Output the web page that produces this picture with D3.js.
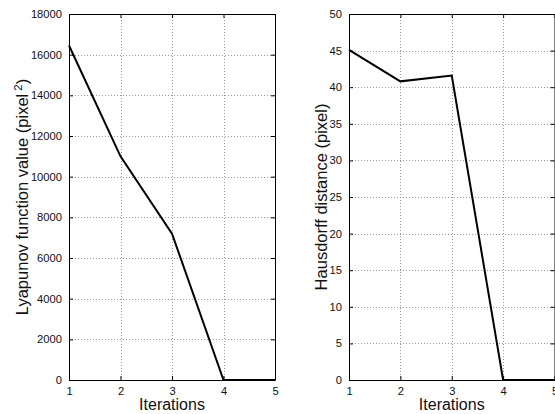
<!DOCTYPE html>
<html>
<head>
<meta charset="utf-8">
<script src="https://cdn.jsdelivr.net/npm/d3@7"></script>
<style>
  html, body { margin: 0; padding: 0; background: #fff; }
  svg { display: block; font-family: "Liberation Sans", Arial, Helvetica, sans-serif; }
</style>
</head>
<body>
<svg id="chart" width="555" height="414"></svg>
<script>
const iterations = [1, 2, 3, 4, 5];
const lyapunovValues = [16450, 11000, 7200, 0, 0];
const hausdorffValues = [45.1, 40.8, 41.6, 0, 0];
const xTicks = [1, 2, 3, 4, 5];
const lyapunovTicks = [0, 2000, 4000, 6000, 8000, 10000, 12000, 14000, 16000, 18000];
const hausdorffTicks = [0, 5, 10, 15, 20, 25, 30, 35, 40, 45, 50];

const svg = d3.select("#chart");

function panel(cfg) {
  const g = svg.append("g");
  const x = d3.scaleLinear().domain([1, 5]).range([cfg.left, cfg.right]);
  const y = d3.scaleLinear().domain(cfg.yDomain).range([cfg.bottom, cfg.top]);

  // grid
  const grid = g.append("g").attr("stroke", "#999").attr("stroke-width", 1)
    .attr("stroke-dasharray", "1,2");
  xTicks.slice(1, -1).forEach(t => {
    grid.append("line").attr("x1", Math.round(x(t)) + 0.5).attr("x2", Math.round(x(t)) + 0.5)
      .attr("y1", cfg.top).attr("y2", cfg.bottom);
  });
  cfg.yTicks.slice(1, -1).forEach(t => {
    grid.append("line").attr("y1", Math.round(y(t)) + 0.5).attr("y2", Math.round(y(t)) + 0.5)
      .attr("x1", cfg.left).attr("x2", cfg.right);
  });

  // axes
  const xAxisB = d3.axisBottom(x).tickValues(xTicks).tickSizeInner(-4).tickSizeOuter(0).tickPadding(7).tickFormat(d3.format("d"));
  const xAxisT = d3.axisTop(x).tickValues(xTicks).tickSizeInner(-4).tickSizeOuter(0).tickFormat("");
  const yAxisL = d3.axisLeft(y).tickValues(cfg.yTicks).tickSizeInner(-4).tickSizeOuter(0).tickPadding(7).tickFormat(d3.format("d"));
  const yAxisR = d3.axisRight(y).tickValues(cfg.yTicks).tickSizeInner(-4).tickSizeOuter(0).tickFormat("");

  const axes = [
    g.append("g").attr("transform", `translate(0,${cfg.bottom})`).call(xAxisB),
    g.append("g").attr("transform", `translate(0,${cfg.top})`).call(xAxisT),
    g.append("g").attr("transform", `translate(${cfg.left},0)`).call(yAxisL),
    g.append("g").attr("transform", `translate(${cfg.right},0)`).call(yAxisR)
  ];
  axes.forEach(a => {
    a.selectAll("path").attr("stroke", "#000").attr("stroke-width", 1);
    a.selectAll("line").attr("stroke", "#000");
    a.selectAll("text").attr("fill", "#111").style("font-size", "11.2px").style("font-family", "'Liberation Sans', Arial, sans-serif");
  });

  // data line
  g.append("path")
    .datum(iterations.map((d, i) => [d, cfg.values[i]]))
    .attr("fill", "none")
    .attr("stroke", "#000")
    .attr("stroke-width", 2)
    .attr("stroke-linejoin", "miter")
    .attr("d", d3.line().x(d => x(d[0])).y(d => y(d[1])));

  // x label
  g.append("text")
    .attr("x", (cfg.left + cfg.right) / 2)
    .attr("y", 410)
    .attr("text-anchor", "middle")
    .style("font-size", "16px")
    .attr("fill", "#111")
    .text("Iterations");

  // y label
  const yl = g.append("text")
    .attr("transform", `translate(${cfg.labelX},${(cfg.top + cfg.bottom) / 2}) rotate(-90)`)
    .attr("text-anchor", "middle")
    .style("font-size", "16.5px")
    .attr("fill", "#111");
  cfg.label(yl);
}

panel({
  left: 69, right: 275, top: 14, bottom: 380,
  yDomain: [0, 18000], yTicks: lyapunovTicks, values: lyapunovValues,
  labelX: 28,
  label: t => {
    t.append("tspan").text("Lyapunov function value (pixel");
    t.append("tspan").attr("dx", 3).attr("dy", -6).style("font-size", "11.5px").text("2");
    t.append("tspan").attr("dy", 6).text(")");
  }
});

panel({
  left: 349, right: 554.5, top: 14, bottom: 380,
  yDomain: [0, 50], yTicks: hausdorffTicks, values: hausdorffValues,
  labelX: 327,
  label: t => { t.text("Hausdorff distance (pixel)"); }
});
</script>
</body>
</html>
